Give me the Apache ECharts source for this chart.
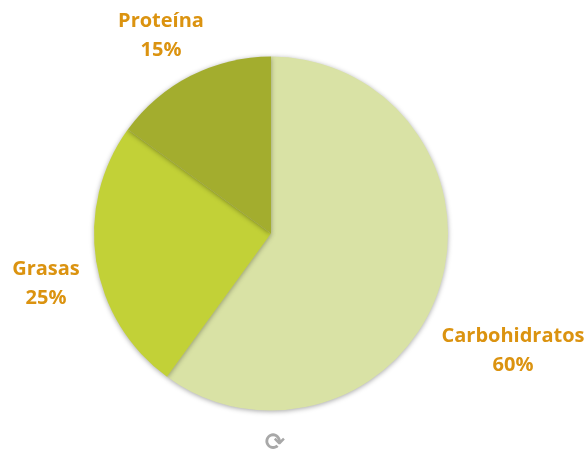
<!DOCTYPE html>
<html><head><meta charset="utf-8">
<script src="https://cdn.jsdelivr.net/npm/echarts@6/dist/echarts.min.js"></script>
<style>html,body{margin:0;padding:0;background:#fff}#c{width:585px;height:450px}</style></head>
<body><div id="c"></div>
<script>
const categories=["Carbohidratos","Grasas","Proteína"];
const values=[60,25,15];
const colors=["#D9E2A5","#C2D137","#A3AD2E"];
const labelBoxes=[[513,351],[46,284],[161,36]];
const chart=echarts.init(document.getElementById('c'));
chart.setOption({
 animation:false,
 series:[{type:'pie',center:[271,233.5],radius:[0,177],startAngle:90,clockwise:true,
  data:categories.map((n,i)=>({name:n,value:values[i],itemStyle:{color:colors[i]}})),
  itemStyle:{shadowBlur:5,shadowColor:'rgba(0,0,0,0.35)',shadowOffsetY:1},
  label:{show:true,formatter:'{b}\n{c}%',color:'#DB9310',fontFamily:'Open Sans',fontWeight:'bold',fontSize:20,lineHeight:29,align:'center',overflow:'none',width:200},
  labelLine:{show:false},
  labelLayout:(p)=>{const b=labelBoxes[p.dataIndex];return {x:b[0],y:b[1],align:'center',verticalAlign:'middle',hideOverlap:false};}
 }],
 graphic:[{type:'text',left:265,top:432,style:{text:'⟳',fontSize:24,fontWeight:'bold',fill:'#a8a8a8',fontFamily:'DejaVu Sans'}}]
});
</script></body></html>
